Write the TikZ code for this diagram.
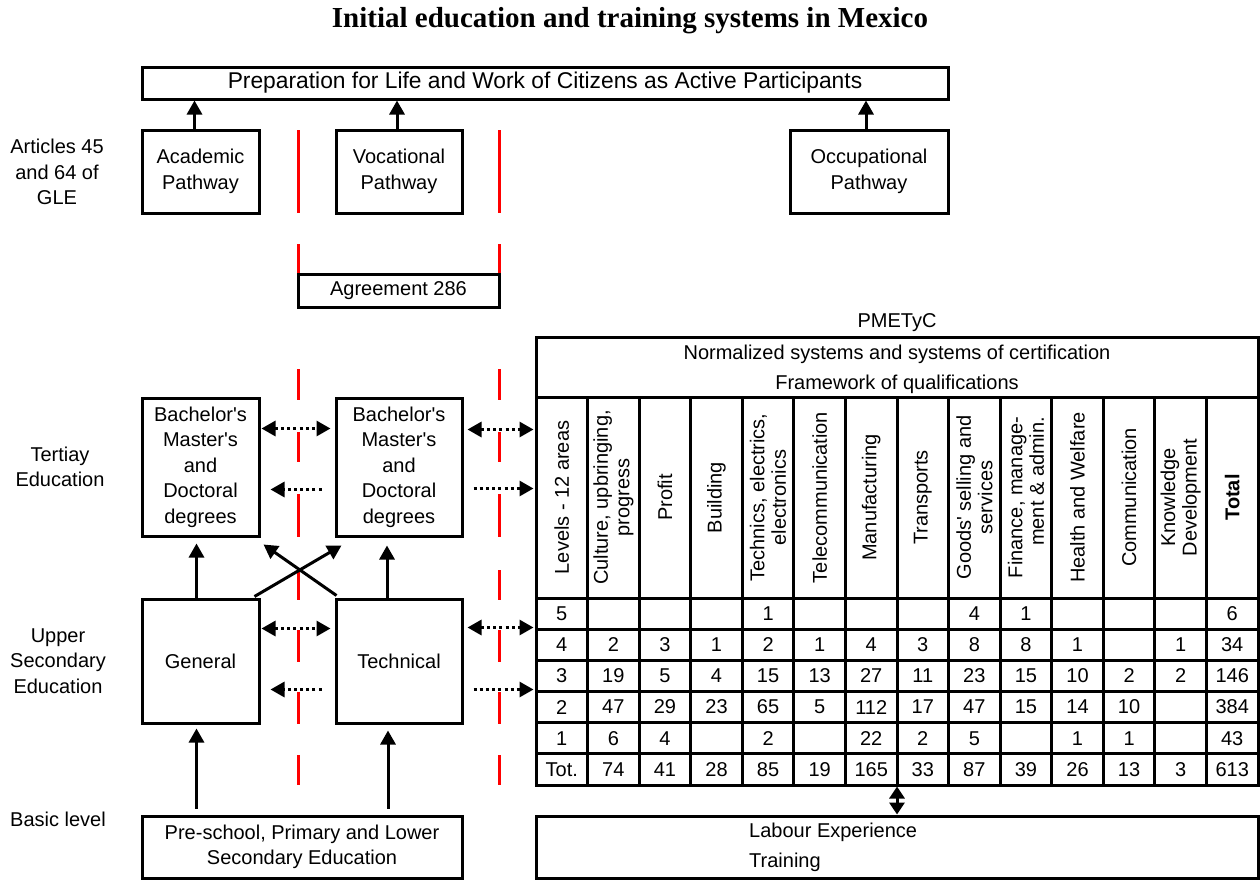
\documentclass[tikz,border=0pt]{standalone}
\usepackage{fontspec}
\setmainfont{Liberation Sans}[Ligatures=TeXOff]
\newfontfamily\titlefont{Liberation Serif}
\usetikzlibrary{arrows.meta,calc}
\newcommand\fs{\fontsize{20}{25.5}\selectfont}
\newcommand\tfs{\fontsize{20}{21.5}\selectfont}
\begin{document}
\begin{tikzpicture}[x=1pt,y=-1pt,
  box/.style={draw, line width=3pt, inner sep=0pt, align=center, font=\fs},
  lbl/.style={align=center, font=\fs, inner sep=0pt},
  hdr/.style={rotate=90, align=center, font=\tfs, inner sep=0pt},
  cell/.style={font=\tfs, inner sep=0pt},
  arr/.style={line width=3pt, -{Triangle[length=14pt,width=15pt]}},
  dotl/.style={line width=3pt, dash pattern=on 3pt off 3.2pt},
  darr/.style={dotl, {Triangle[length=14pt,width=15pt]}-{Triangle[length=14pt,width=15pt]}},
  rarr/.style={dotl, -{Triangle[length=14pt,width=15pt]}},
  redl/.style={draw=red, line width=3pt}]
\useasboundingbox (0,0) rectangle (1260,881);

% title
\node[inner sep=0pt, font=\titlefont\bfseries\fontsize{29}{34}\selectfont] (title) at (630,21) {Initial education and training systems in Mexico};

% red dashed separators
\foreach \a/\b in {130/213, 244/274, 369/400, 432/462, 494/537, 570/600, 630/662, 692/724, 755/785}{
  \draw[redl] (298,\a) -- (298,\b);
  \draw[redl] (499,\a) -- (499,\b);
}

% top boxes
\node[box, minimum width=806pt, minimum height=32pt, font=\fontsize{22.8}{26}\selectfont] (prep) at (545,83) {Preparation for Life and Work of Citizens as Active Participants};
\node[box, minimum width=117pt, minimum height=83pt] (acad) at (200.5,171.5) {Academic\\Pathway};
\node[box, minimum width=126pt, minimum height=83pt] (voc) at (399,171.5) {Vocational\\Pathway};
\node[box, minimum width=158pt, minimum height=83pt] (occ) at (869,171.5) {Occupational\\Pathway};
\node[box, minimum width=201pt, minimum height=33pt] (agr) at (398.5,290.5) {Agreement 286};

% left labels
\node[lbl] (l1) at (57,172) {Articles 45\\and 64 of\\GLE};
\node[lbl] (l2) at (60,467) {Tertiay\\Education};
\node[lbl] (l3) at (58,661) {Upper\\Secondary\\Education};
\node[lbl] (l4) at (58,819) {Basic level};

% tertiary and secondary boxes
\node[box, minimum width=117pt, minimum height=138pt] (bach1) at (200.5,467) {Bachelor's\\Master's\\and\\Doctoral\\degrees};
\node[box, minimum width=126pt, minimum height=138pt] (bach2) at (399,467) {Bachelor's\\Master's\\and\\Doctoral\\degrees};
\node[box, minimum width=117pt, minimum height=124pt] (gen) at (200.5,661) {General};
\node[box, minimum width=126pt, minimum height=124pt] (tech) at (399,661) {Technical};
\node[box, minimum width=320pt, minimum height=62pt] (basic) at (302,847) {Pre-school, Primary and Lower\\Secondary Education};

% table
\node[draw, line width=3pt, minimum width=722pt, minimum height=448pt, inner sep=0pt] (tbl) at (897,561) {};
\node[lbl] (pme) at (897,323) {PMETyC};
\node[lbl] (norm) at (897,354) {Normalized systems and systems of certification};
\node[lbl] (fram) at (897,384) {Framework of qualifications};
\draw[line width=3pt] (536,397) -- (1258,397);
\foreach \k in {0,...,6}{
  \draw[line width=3pt] (536,{598+\k*31.167}) -- (1258,{598+\k*31.167});
}
\foreach \k in {1,...,13}{
  \draw[line width=3pt] ({536+\k*51.571},397) -- ({536+\k*51.571},785);
}
\newcommand\cx[1]{{536+(#1-0.5)*51.571}}
\node[hdr] (h1) at (\cx{1},497.5) {Levels - 12 areas};
\node[hdr] (h2) at (\cx{2},497.5) {Culture, upbringing,\\progress};
\node[hdr] (h3) at (\cx{3},497.5) {Profit};
\node[hdr] (h4) at (\cx{4},497.5) {Building};
\node[hdr] (h5) at (\cx{5},497.5) {Technics, electrics,\\electronics};
\node[hdr] (h6) at (\cx{6},497.5) {Telecommunication};
\node[hdr] (h7) at (\cx{7},497.5) {Manufacturing};
\node[hdr] (h8) at (\cx{8},497.5) {Transports};
\node[hdr] (h9) at (\cx{9},497.5) {Goods' selling and\\services};
\node[hdr, align=right] (h10) at (\cx{10},497.5) {Finance, manage-\\ment \& admin.};
\node[hdr] (h11) at (\cx{11},497.5) {Health and Welfare};
\node[hdr] (h12) at (\cx{12},497.5) {Communication};
\node[hdr] (h13) at (\cx{13},497.5) {Knowledge\\Development};
\node[hdr, font=\tfs\bfseries] (h14) at (\cx{14},497.5) {Total};

\foreach \row [count=\j] in {
  {5,,,,1,,,,4,1,,,,6},
  {4,2,3,1,2,1,4,3,8,8,1,,1,34},
  {3,19,5,4,15,13,27,11,23,15,10,2,2,146},
  {2,47,29,23,65,5,112,17,47,15,14,10,,384},
  {1,6,4,,2,,22,2,5,,1,1,,43},
  {Tot.,74,41,28,85,19,165,33,87,39,26,13,3,613}}{
  \foreach \v [count=\i] in \row {
    \node[cell] (c-\j-\i) at ({536+(\i-0.5)*51.571},{598+(\j-0.5)*31.167}) {\v};
  }
}

% labour box
\node[draw, line width=3pt, minimum width=722pt, minimum height=62pt, inner sep=0pt] (labour) at (897,847) {};
\node[lbl, anchor=west] (lab1) at (749,832) {Labour Experience};
\node[lbl, anchor=west] (lab2) at (749,862) {Training};

% solid arrows
\draw[arr] ([xshift=-6pt]acad.north) -- ([xshift=-6pt]acad.north |- prep.south);
\draw[arr] ([xshift=-2pt]voc.north) -- ([xshift=-2pt]voc.north |- prep.south);
\draw[arr] ([xshift=-3pt]occ.north) -- ([xshift=-3pt]occ.north |- prep.south);
\draw[arr] ([xshift=-4pt]gen.north) -- ([xshift=-4pt,yshift=-6pt]bach1.south);
\draw[arr] ([xshift=-12pt]tech.north) -- ([xshift=-12pt,yshift=-8pt]bach2.south);
\draw[arr] ([xshift=-6pt,yshift=1pt]gen.north east) -- ([xshift=7pt,yshift=-8pt]bach2.south west);
\draw[arr] ([xshift=2pt,yshift=2pt]tech.north west) -- ([xshift=3pt,yshift=-7pt]bach1.south east);
\draw[arr] ([xshift=-4pt,yshift=6pt]gen.south |- basic.north) -- ([xshift=-4pt,yshift=-4pt]gen.south);
\draw[arr] ([xshift=-11pt,yshift=6pt]tech.south |- basic.north) -- ([xshift=-11pt,yshift=-6pt]tech.south);
\draw[line width=3pt, {Triangle[length=12pt,width=15pt]}-{Triangle[length=12pt,width=15pt]}] (tbl.south) -- (labour.north);

% dotted arrows (tertiary)
\draw[darr] ($(bach1.north east)+(1,32)$) -- ($(bach2.north west)+(-4,32)$);
\draw[rarr] ($(bach2.north west)+(-13,93)$) -- ($(bach1.north east)+(10,93)$);
\draw[darr] ($(bach2.north east)+(4,33)$) -- ($(tbl.north west)+(-1,94)$);
\draw[rarr] ($(bach2.north east)+(10,92)$) -- ($(tbl.north west)+(-1,153)$);
% dotted arrows (upper secondary)
\draw[darr] ($(gen.north east)+(1,31)$) -- ($(tech.north west)+(-4,31)$);
\draw[rarr] ($(tech.north west)+(-13,92)$) -- ($(gen.north east)+(10,92)$);
\draw[darr] ($(tech.north east)+(4,30)$) -- ($(tbl.north west)+(-1,292)$);
\draw[rarr] ($(tech.north east)+(10,92)$) -- ($(tbl.north west)+(-1,354)$);
\end{tikzpicture}
\end{document}
